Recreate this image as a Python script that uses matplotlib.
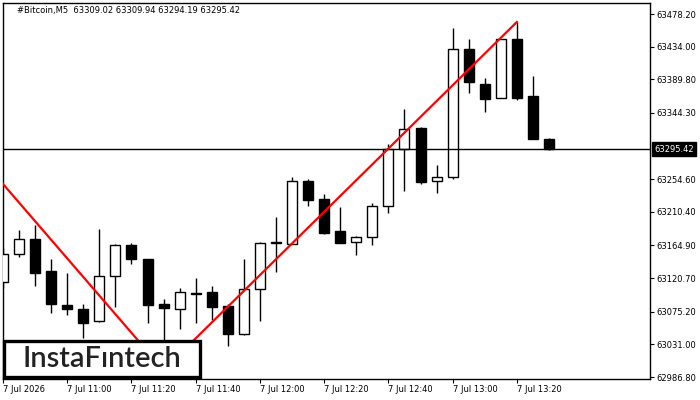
import matplotlib.pyplot as plt
from matplotlib.patches import Rectangle
from matplotlib.transforms import blended_transform_factory

# M5 candles, #Bitcoin
opens = [63115.4, 63153.3, 63173.6, 63130.3, 63084.3, 63078.9, 63062.6, 63123.5, 63165.5, 63146.5,
         63085.6, 63078.9, 63100.5, 63101.9, 63082.9, 63045.0, 63105.9, 63169.6, 63166.8, 63252.1,
         63227.8, 63184.4, 63169.6, 63176.3, 63218.3, 63295.5, 63323.9, 63252.1, 63257.5, 63430.8,
         63383.4, 63364.5, 63444.4, 63367.2, 63309.02]
highs = [63161.4, 63185.8, 63192.6, 63146.5, 63127.6, 63085.6, 63187.2, 63166.8, 63168.2, 63146.5,
         63092.4, 63107.3, 63120.8, 63110.0, 63085.6, 63146.5, 63169.6, 63203.4, 63257.5, 63254.8,
         63234.5, 63216.9, 63177.7, 63222.4, 63302.2, 63349.6, 63325.2, 63273.8, 63459.3, 63444.4,
         63391.6, 63444.4, 63467.4, 63394.3, 63309.94]
lows = [63107.3, 63149.2, 63110.0, 63073.4, 63070.7, 63039.6, 63061.3, 63081.6, 63139.8, 63059.9,
        63030.1, 63051.8, 63059.9, 63064.0, 63028.8, 63043.7, 63062.6, 63128.9, 63166.8, 63218.3,
        63180.4, 63168.2, 63152.0, 63165.5, 63208.8, 63238.6, 63248.1, 63235.9, 63254.8, 63371.3,
        63345.5, 63364.5, 63361.8, 63309.0, 63294.19]
closes = [63153.3, 63173.6, 63127.6, 63085.6, 63078.9, 63059.9, 63123.5, 63165.5, 63146.5, 63084.3,
          63080.2, 63101.9, 63099.2, 63081.6, 63045.0, 63105.9, 63168.2, 63168.2, 63252.1, 63226.4,
          63181.7, 63168.2, 63176.3, 63218.3, 63295.5, 63322.5, 63250.8, 63257.5, 63430.8, 63386.1,
          63363.1, 63444.4, 63364.5, 63309.0, 63295.42]

# pattern lines (bar index, price)
pattern_idx = [0, 10, 32]
pattern_price = [63248.1, 62996.3, 63467.4]

last_price = 63295.42
ytick_vals = [63478.20, 63434.00, 63389.80, 63344.30, 63254.60, 63210.40,
              63164.90, 63120.70, 63075.20, 63031.00, 62986.80]
xtick_idx = [0, 4, 8, 12, 16, 20, 24, 28, 32]
xtick_lab = ['7 Jul 2026', '7 Jul 11:00', '7 Jul 11:20', '7 Jul 11:40', '7 Jul 12:00',
             '7 Jul 12:20', '7 Jul 12:40', '7 Jul 13:00', '7 Jul 13:20']

fig = plt.figure(figsize=(7, 4), dpi=100)
ax = fig.add_axes([3/700, 21/400, 647/700, 376/400])

for i, (o, h, l, c) in enumerate(zip(opens, highs, lows, closes)):
    ax.vlines(i, l, h, color='black', lw=1, zorder=2)
    bottom = min(o, c)
    height = max(abs(c - o), 1.0)
    fill = 'white' if c > o else 'black'
    ax.add_patch(Rectangle((i - 0.31, bottom), 0.62, height, facecolor=fill,
                           edgecolor='black', lw=1, zorder=3))

ax.axhline(last_price, color='black', lw=1, zorder=4)
ax.plot(pattern_idx, pattern_price, color='#ff0000', lw=1.6, zorder=5)

ax.set_xlim(0, 40.29)
ax.set_ylim(62984.1, 63493.1)

ax.yaxis.tick_right()
ax.set_yticks(ytick_vals)
ax.set_yticklabels(['%.2f' % v for v in ytick_vals])
ax.set_xticks(xtick_idx)
ax.set_xticklabels(xtick_lab, ha='left')
ax.tick_params(axis='both', labelsize=6, length=3, width=0.8, direction='out', pad=1.5)
for s in ax.spines.values():
    s.set_linewidth(1)

trans = blended_transform_factory(ax.transAxes, ax.transData)
ax.text(1.006, last_price, '%.2f' % last_price, transform=trans, ha='left', va='center',
        color='white', fontsize=6, zorder=10, clip_on=False,
        bbox=dict(facecolor='black', edgecolor='black', pad=1.5))

fig.text(17/700, 1 - 10/400, '#Bitcoin,M5  63309.02 63309.94 63294.19 63295.42',
         fontsize=6, va='center', ha='left')

# logo
fig.add_artist(Rectangle((4/700, 23/400), 196/700, 36/400, transform=fig.transFigure,
                         facecolor='white', edgecolor='black', lw=2.4, zorder=20))
fig.text(102/700, 1 - 359/400, 'InstaFıntech', family=['Lato', 'DejaVu Sans'],
         fontsize=21, fontweight='semibold', color='#222222', ha='center', va='center', zorder=21)

plt.savefig('out.png', dpi=100)
